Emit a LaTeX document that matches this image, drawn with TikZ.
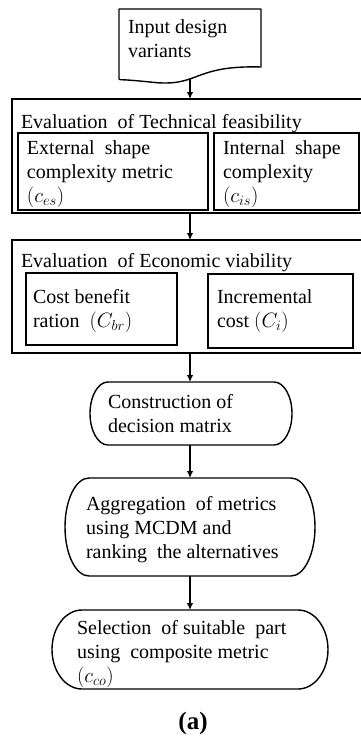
\documentclass[tikz,border=0pt]{standalone}
\usepackage{fontspec}
\setmainfont{Liberation Serif}
\usetikzlibrary{arrows.meta}
\begin{document}
\begin{tikzpicture}[x=1pt,y=-1pt,
  every node/.style={font=\fontsize{20}{24}\selectfont, inner sep=0pt, outer sep=0pt},
  panel/.style={draw, line width=1.9pt, rectangle, anchor=north west},
  subpanel/.style={draw, line width=1.1pt, rectangle, anchor=north west},
  frame/.style={rectangle, draw=none},
  termline/.style={line width=1.4pt, line join=round},
  txt/.style={anchor=base west, align=left},
  link/.style={line width=1.3pt, -{Latex[length=7pt,width=6.5pt]}},
  ]
\useasboundingbox (0,0) rectangle (360,739);

% input document (wavy bottom edge); text nodes are anchored at their last baseline
\node[frame, minimum width=142pt, minimum height=70pt] (doc) at (190,44) {};
\draw[termline] (doc.south west) -- (doc.north west) -- (doc.north east) -- ([yshift=12pt]doc.north east |- doc.south)
  .. controls +(-70pt,2pt) and +(50pt,-6pt) .. ([xshift=-40pt,yshift=-3pt]doc.south)
  .. controls +(-40pt,4pt) and +(5pt,-2pt) .. (doc.south west);
\node[txt] (docText) at (128,57) {Input design\\variants};

% technical feasibility panel
\node[panel, minimum width=352pt, minimum height=114pt] (tech) at (12,99) {};
\node[txt] (techTitle) at (21,128) {Evaluation\ \ of Technical\ feasibility};
\node[subpanel, minimum width=190pt, minimum height=77pt] (ces) at (18,133) {};
\node[subpanel, minimum width=145pt, minimum height=77pt] (cis) at (214,133) {};
\node[txt] (cesText) at (27,202) {External\ \ shape\\complexity\ metric\\$(c_{es})$};
\node[txt] (cisText) at (223,202) {Internal\ \ shape\\complexity\\$(c_{is})$};

% economic viability panel
\node[panel, minimum width=352pt, minimum height=113pt] (econ) at (12,240) {};
\node[txt] (econTitle) at (21,267) {Evaluation\ \ of Economic viability};
\node[subpanel, minimum width=151pt, minimum height=72pt] (cbr) at (26,273) {};
\node[subpanel, minimum width=145pt, minimum height=74pt] (ci) at (208,274) {};
\node[txt] (cbrText) at (33,327) {Cost benefit\\ration\ \ $(C_{br})$};
\node[txt] (ciText) at (217,327) {Incremental\\cost $(C_i)$};

% terminal-shaped steps
\node[frame, minimum width=202pt, minimum height=63pt] (cons) at (191,413.5) {};
\node[frame, minimum width=250pt, minimum height=98pt] (agg) at (190,527) {};
\node[frame, minimum width=276pt, minimum height=79pt] (sel) at (190,649.5) {};
\draw[termline] ([xshift=18pt]cons.north west) -- ([xshift=-18pt]cons.north east)
  arc[start angle=90, end angle=-90, x radius=18pt, y radius=31.5pt]
  -- ([xshift=18pt]cons.south west)
  arc[start angle=270, end angle=90, x radius=18pt, y radius=31.5pt] -- cycle;
\draw[termline] ([xshift=24pt]agg.north west) -- ([xshift=-24pt]agg.north east)
  arc[start angle=90, end angle=-90, x radius=24pt, y radius=49pt]
  -- ([xshift=24pt]agg.south west)
  arc[start angle=270, end angle=90, x radius=24pt, y radius=49pt] -- cycle;
\draw[termline] ([xshift=30pt]sel.north west) -- ([xshift=-30pt]sel.north east)
  arc[start angle=90, end angle=-90, x radius=30pt, y radius=39.5pt]
  -- ([xshift=30pt]sel.south west)
  arc[start angle=270, end angle=90, x radius=30pt, y radius=39.5pt] -- cycle;
\node[txt] (consText) at (108,432) {Construction of\\decision matrix};
\node[txt] (aggText) at (86,558) {Aggregation\ \ of metrics\\using MCDM and\\ranking\ \ the alternatives};
\node[txt] (selText) at (77,682) {Selection\ \ of suitable\ \ part\\using\ \ composite metric\\$(c_{co})$};

% caption
\node[anchor=base, font=\fontsize{25}{28}\selectfont\bfseries] (caption) at (193,729) {(a)};

% connectors
\draw[link] (doc.south) -- (doc.south |- tech.north);
\draw[link] (doc.south |- tech.south) -- (doc.south |- econ.north);
\draw[link] (doc.south |- econ.south) -- (doc.south |- cons.north);
\draw[link] (doc.south |- cons.south) -- (doc.south |- agg.north);
\draw[link] (doc.south |- agg.south) -- (doc.south |- sel.north);
\end{tikzpicture}
\end{document}
